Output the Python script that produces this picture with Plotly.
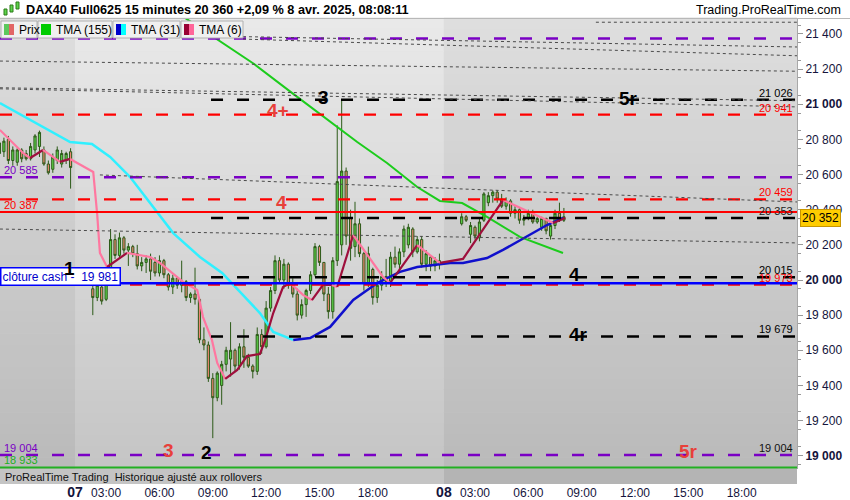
import plotly.graph_objects as go

# ---------------- data ----------------
# bar index: 0 = 07 avr 01:15, one unit = one 15-minute bar; day 08 starts at 83
bar_idx = list(range(-17, 0)) + list(range(4, 83)) + list(range(87, 111))

opens = [20720, 20730, 20800, 20680, 20670, 20740, 20720, 20690, 20740, 20760, 20740, 20660, 20630, 20680, 20660, 20680, 20730,
         19950, 19900, 19960, 19890, 20050, 20230, 20140, 20240, 20170, 20190, 20150, 20080, 20100, 20120, 20100, 20040,
         20110, 20030, 19960, 20010, 19970, 19990, 19900, 19920, 19890, 19660, 19630, 19440, 19330, 19400, 19520, 19550,
         19600, 19510, 19620, 19560, 19510, 19480, 19690, 19620, 19840, 19940, 20110, 20000, 20090, 19970, 19920, 19800,
         19860, 19940, 20030, 20190, 20100, 19920, 19820, 20110, 20200, 20620, 20350, 20190, 20320, 20150, 19980, 20060,
         19900, 19970, 20020, 19990, 20130, 20090, 20160, 20200, 20290, 20160, 20230, 20090, 20130, 20080, 20110,
         20320, 20360, 20260, 20300, 20240, 20340, 20440, 20480, 20500, 20460, 20420, 20450, 20380, 20400, 20340, 20350,
         20380, 20330, 20300, 20350, 20250, 20310, 20380, 20340]
highs = [20800, 20810, 20820, 20760, 20750, 20750, 20740, 20780, 20830, 20850, 20760, 20680, 20720, 20760, 20740, 20730, 20750,
         19985, 19985, 20020, 20060, 20290, 20260, 20270, 20250, 20210, 20200, 20200, 20130, 20140, 20150, 20130, 20140,
         20120, 20040, 20030, 20020, 20110, 20000, 19930, 20070, 19900, 19730, 19650, 19470, 19480, 19540, 19620, 19760,
         19610, 19640, 19720, 19580, 19520, 19730, 19720, 19880, 19960, 20140, 20130, 20120, 20100, 20010, 19950, 19890,
         19950, 20050, 20210, 20200, 20100, 19960, 20130, 20880, 21026, 20640, 20400, 20445, 20350, 20160, 20190, 20070,
         20000, 20050, 20120, 20160, 20190, 20180, 20310, 20320, 20300, 20250, 20250, 20170, 20140, 20130, 20150,
         20380, 20370, 20330, 20310, 20350, 20500, 20500, 20510, 20510, 20490, 20470, 20460, 20420, 20410, 20370, 20400,
         20400, 20360, 20360, 20355, 20320, 20400, 20440, 20410]
lows = [20680, 20700, 20660, 20650, 20650, 20670, 20680, 20680, 20720, 20700, 20650, 20600, 20610, 20660, 20640, 20660, 20520,
        19800, 19880, 19860, 19880, 20040, 20120, 20120, 20150, 20080, 20130, 20060, 20050, 20040, 20000, 20020, 20020,
        20010, 19940, 19920, 19950, 19930, 19880, 19870, 19860, 19640, 19600, 19420, 19100, 19310, 19290, 19480, 19450,
        19480, 19490, 19500, 19500, 19440, 19460, 19580, 19610, 19820, 19920, 19980, 19950, 19950, 19900, 19770, 19780,
        19790, 19920, 20020, 20080, 19880, 19780, 19780, 20080, 20140, 20200, 20110, 20130, 20130, 19940, 19960, 19860,
        19870, 19940, 19960, 19960, 20070, 20060, 20130, 20180, 20130, 20150, 20070, 20050, 20050, 20050, 20060,
        20310, 20330, 20210, 20230, 20220, 20330, 20420, 20440, 20440, 20410, 20400, 20360, 20350, 20320, 20310, 20340,
        20320, 20320, 20280, 20260, 20230, 20290, 20330, 20330]
closes = [20780, 20790, 20680, 20740, 20740, 20690, 20690, 20760, 20820, 20840, 20660, 20610, 20700, 20740, 20720, 20720, 20640,
          19900, 19970, 19880, 20050, 20230, 20140, 20240, 20170, 20190, 20150, 20080, 20100, 20120, 20050, 20040, 20110,
          20030, 19960, 20010, 19970, 19990, 19900, 19920, 19890, 19660, 19630, 19440, 19330, 19470, 19520, 19600, 19600,
          19510, 19620, 19560, 19510, 19480, 19690, 19620, 19840, 19940, 20110, 20000, 20090, 19970, 19920, 19800, 19860,
          19940, 20030, 20190, 20100, 19920, 19820, 20110, 20560, 20620, 20250, 20180, 20320, 20150, 19980, 20150, 19900,
          19970, 20020, 19990, 20130, 20090, 20160, 20290, 20300, 20160, 20230, 20090, 20150, 20080, 20110, 20090,
          20360, 20340, 20310, 20250, 20330, 20490, 20480, 20500, 20460, 20420, 20450, 20380, 20400, 20340, 20350, 20380,
          20330, 20350, 20350, 20280, 20310, 20380, 20350, 20360]

tma155_x = [21.4, 32.4, 40.3, 49.1, 59.0, 63.5, 70.2, 77.0, 82.1, 87.1, 92.7, 100.1, 109.8]
tma155_v = [21548, 21360, 21229, 21059, 20871, 20785, 20666, 20529, 20450, 20438, 20359, 20245, 20154]

tma31_x = [-16.9, -1.1, 3.8, 7.9, 12.4, 18.5, 22.1, 28.1, 33.1, 41.6, 44.6, 49.1, 52.9, 57.4, 62.6, 68.0,
           73.1, 77.0, 84.4, 87.3, 92.7, 96.3, 102.4, 106.2, 109.8]
tma31_v = [21007, 20785, 20774, 20700, 20586, 20381, 20267, 20131, 20040, 19812, 19704, 19659, 19670, 19733,
           19886, 19983, 20046, 20074, 20097, 20097, 20125, 20171, 20256, 20313, 20353]

tma6_x = [-16.9, -14.6, -11.7, -10.1, -7.2, -3.4, -1.1, 3.4, 4.1, 5.0, 5.6, 7.2, 11.7, 16.9, 19.1, 24.3, 27.5,
          28.8, 30.8, 32.0, 33.8, 36.5, 38.7, 41.6, 42.8, 44.6, 46.8, 48.4, 51.3, 53.3, 55.8, 57.8, 59.0, 62.6,
          69.3, 70.9, 77.0, 82.1, 87.3, 96.3, 107.6, 110.3]
tma6_v = [20854, 20797, 20723, 20694, 20740, 20672, 20689, 20626, 20615, 20370, 20154, 20074, 20154, 20131,
          20097, 19989, 19943, 19789, 19659, 19528, 19437, 19488, 19567, 19579, 19659, 19812, 19960, 19983, 19915,
          19886, 19972, 19972, 19960, 20256, 20017, 19983, 20199, 20097, 20120, 20455, 20324, 20353]

purple_levels = [21375, 20585, 19004]
red_dashed_levels = [20941, 20459, 19973]
red_solid_level = 20387
black_levels = [21026, 20353, 20015, 19679]
black_levels_start = 30.6
cash_close = 19981
green_level = 18933
last_price = 20352

# gray dotted trend lines: (x0 idx, v0, x1 idx, v1)
trend_x0 = [117.2, 37.8, 37.8, -16.9, -16.9, -16.9, 5.6, -16.9]
trend_v0 = [21467, 21385, 21371, 21246, 21094, 21088, 20598, 20290]
trend_x1 = [162.5, 162.5, 162.5, 162.5, 162.5, 162.5, 162.5, 162.5]
trend_v1 = [21467, 21326, 21276, 21188, 21020, 20985, 20444, 20211]

x_tick_idx = [0, 7, 19, 31, 43, 55, 67, 83, 90, 102, 114, 126, 138, 150]
x_tick_text = ["07", "03:00", "06:00", "09:00", "12:00", "15:00", "18:00",
               "08", "03:00", "06:00", "09:00", "12:00", "15:00", "18:00"]
y_tick_vals = list(range(19000, 21401, 200))
y_bold_vals = [19000, 20000, 21000]
day_bounds = [-16.88, 0, 83, 162.45]

# ---------------- layout helpers ----------------
W, H = 850, 500
PL, PR, PT, PB = 0, 797, 18, 469
XR = [-16.88, 162.45]
YR = [18924.4, 21491.0]


def pxx(x):
    return (x - PL) / (PR - PL)


def pxy(y):
    return (PB - y) / (PB - PT)


def fmt(v):
    return f"{v:,}".replace(",", " ")


ARIAL = "Liberation Sans, Arial, sans-serif"
NARROW = "Liberation Sans Narrow, Arial Narrow, Liberation Sans, sans-serif"

fig = go.Figure()
shapes = []
annots = []


def lerp(c1, c2, t):
    return tuple(round(a + (b - a) * t) for a, b in zip(c1, c2))


light_top, light_bot = (233, 233, 233), (197, 197, 197)
dark_top, dark_bot = (222, 222, 222), (186, 186, 186)
NB = 40
for d in range(3):
    top, bot = (dark_top, dark_bot) if d != 1 else (light_top, light_bot)
    for i in range(NB):
        c = lerp(top, bot, (i + 0.5) / NB)
        shapes.append(dict(type="rect", xref="x", yref="paper", x0=day_bounds[d], x1=day_bounds[d + 1],
                           y0=1 - (i + 1) / NB, y1=1 - i / NB + 0.001, line=dict(width=0),
                           fillcolor=f"rgb{c}", layer="below"))

# candles
fig.add_trace(go.Candlestick(
    x=bar_idx, open=opens, high=highs, low=lows, close=closes,
    increasing=dict(line=dict(color="#2c5a18", width=1), fillcolor="#5cd44a"),
    decreasing=dict(line=dict(color="#2c5a18", width=1), fillcolor="#ec8672"),
    whiskerwidth=0, hoverinfo="skip", showlegend=False))


def slope_segments(xs, vs, up, down):
    segs = []
    cur, col = [0], None
    for i in range(1, len(xs)):
        c = up if vs[i] >= vs[i - 1] else down
        if col is not None and c != col:
            segs.append((cur, col))
            cur = [i - 1]
        cur.append(i)
        col = c
    segs.append((cur, col))
    return segs


fig.add_trace(go.Scatter(x=tma155_x, y=tma155_v, mode="lines",
                         line=dict(color="#1ccc1c", width=2), hoverinfo="skip", showlegend=False))
for idxs, col in slope_segments(tma31_x, tma31_v, "#1010cc", "#30f0ff"):
    fig.add_trace(go.Scatter(x=[tma31_x[i] for i in idxs], y=[tma31_v[i] for i in idxs], mode="lines",
                             line=dict(color=col, width=2.5), hoverinfo="skip", showlegend=False))
for idxs, col in slope_segments(tma6_x, tma6_v, "#9e0f3c", "#ff77a0"):
    fig.add_trace(go.Scatter(x=[tma6_x[i] for i in idxs], y=[tma6_v[i] for i in idxs], mode="lines",
                             line=dict(color=col, width=2.2), hoverinfo="skip", showlegend=False))

# levels
DASH = "12px,14px"
for v in purple_levels:
    shapes.append(dict(type="line", xref="paper", yref="y", x0=0, x1=1, y0=v, y1=v,
                       line=dict(color="#7a00c4", width=2.5, dash=DASH)))
for v in red_dashed_levels:
    shapes.append(dict(type="line", xref="paper", yref="y", x0=0, x1=1, y0=v, y1=v,
                       line=dict(color="#ff0000", width=2.2, dash=DASH)))
shapes.append(dict(type="line", xref="paper", yref="y", x0=0, x1=1, y0=red_solid_level, y1=red_solid_level,
                   line=dict(color="#ff0000", width=2)))
for v in black_levels:
    shapes.append(dict(type="line", xref="x", yref="y", x0=black_levels_start, x1=XR[1], y0=v, y1=v,
                       line=dict(color="#000000", width=2.5, dash=DASH)))
shapes.append(dict(type="line", xref="paper", yref="y", x0=0, x1=1, y0=cash_close, y1=cash_close,
                   line=dict(color="#0000ff", width=2.5)))
shapes.append(dict(type="line", xref="paper", yref="y", x0=0, x1=1, y0=green_level, y1=green_level,
                   line=dict(color="#22b022", width=2)))
for x0, v0, x1, v1 in zip(trend_x0, trend_v0, trend_x1, trend_v1):
    shapes.append(dict(type="line", xref="x", yref="y", x0=x0, x1=x1, y0=v0, y1=v1,
                       line=dict(color="#4a4a4a", width=1, dash="3px,3px")))

# bottom info band
shapes.append(dict(type="rect", xref="paper", yref="paper", x0=0, x1=pxx(444), y0=pxy(484), y1=pxy(469),
                   line=dict(width=0), fillcolor="#c4c4c4"))
shapes.append(dict(type="rect", xref="paper", yref="paper", x0=pxx(444), x1=1, y0=pxy(484), y1=pxy(469),
                   line=dict(width=0), fillcolor="#b4b4b4"))
annots.append(dict(xref="paper", yref="paper", x=pxx(3), y=pxy(476.5), xanchor="left", yanchor="middle",
                   text="ProRealTime Trading  Historique ajusté aux rollovers", showarrow=False,
                   font=dict(family=NARROW, size=11, color="#111111")))

# header
shapes.append(dict(type="line", xref="paper", yref="paper", x0=0, x1=W / PR, y0=pxy(18.5), y1=pxy(18.5),
                   line=dict(color="#b8b8b8", width=1)))
for (x0, y0, x1, y1) in [(4, 9, 7, 15), (10, 5, 13, 12), (16, 2, 19, 9)]:
    shapes.append(dict(type="rect", xref="paper", yref="paper", x0=pxx(x0), x1=pxx(x1), y0=pxy(y1), y1=pxy(y0),
                       line=dict(color="#2c7a18", width=1), fillcolor="#5cd44a"))
annots.append(dict(xref="paper", yref="paper", x=pxx(24), y=pxy(9.5), xanchor="left", yanchor="middle",
                   text="<b>DAX40 Full0625 15 minutes 20 360 +2,09 % 8 avr. 2025, 08:08:11</b>", showarrow=False,
                   font=dict(family=ARIAL, size=12.7, color="#000000")))
annots.append(dict(xref="paper", yref="paper", x=pxx(843), y=pxy(9.5), xanchor="right", yanchor="middle",
                   text="Trading.ProRealTime.com", showarrow=False,
                   font=dict(family=ARIAL, size=12.5, color="#000000")))

# legend boxes
legend_items = [("Prix", 1, 37, ["#5cc85c", "#e26666"]), ("TMA (155)", 38, 112, ["#00cc00"]),
                ("TMA (31)", 113, 180, ["#0000cc", "#00ffff"]), ("TMA (6)", 181, 243, ["#990033", "#ff6699"])]
for text, bx0, bx1, cols in legend_items:
    shapes.append(dict(type="rect", xref="paper", yref="paper", x0=pxx(bx0), x1=pxx(bx1), y0=pxy(38), y1=pxy(21),
                       line=dict(color="#b0b0b0", width=1), fillcolor="#f0f0f0"))
    sw = 10 / len(cols)
    for k, c in enumerate(cols):
        shapes.append(dict(type="rect", xref="paper", yref="paper", x0=pxx(bx0 + 3 + k * sw),
                           x1=pxx(bx0 + 3 + (k + 1) * sw), y0=pxy(35), y1=pxy(24), line=dict(width=0), fillcolor=c))
    annots.append(dict(xref="paper", yref="paper", x=pxx(bx0 + 16), y=pxy(29.5), xanchor="left", yanchor="middle",
                       text=text, showarrow=False, font=dict(family=ARIAL, size=12, color="#000000")))

# right-side level labels
right_labels = [(21026, "#000000"), (20941, "#ff0000"), (20459, "#ff0000"), (20353, "#222222"),
                (20015, "#000000"), (19973, "#ff0000"), (19679, "#000000"), (19004, "#111111")]
for v, c in right_labels:
    annots.append(dict(xref="paper", yref="y", x=pxx(795), y=v, xanchor="right", yanchor="bottom",
                       text=fmt(v), showarrow=False, yshift=-1, font=dict(family=ARIAL, size=11, color=c)))
left_labels = [(20585, "#7a00c4"), (20387, "#ff0000"), (19004, "#7a00c4"), (18933, "#22b022")]
for v, c in left_labels:
    annots.append(dict(xref="paper", yref="y", x=pxx(2), y=v, xanchor="left", yanchor="bottom",
                       text=fmt(v), showarrow=False, yshift=-1, font=dict(family=ARIAL, size=11, color=c)))

# cash close box
annots.append(dict(xref="paper", yref="paper", x=pxx(0), y=pxy(276), xanchor="left", yanchor="middle",
                   text="clôture cash -  " + fmt(cash_close), showarrow=False, bgcolor="#ffffff",
                   bordercolor="#0000ff", borderwidth=1.5, borderpad=1,
                   font=dict(family=ARIAL, size=12, color="#0000cc")))

# big wave labels
BLACK, LRED = "#000000", "#e8403a"
big_labels = [("3", 323, 97, BLACK), ("5r", 628, 99, BLACK), ("4+", 278, 110, LRED), ("4", 281, 202, LRED),
              ("4", 574, 274, BLACK), ("4r", 578, 334, BLACK), ("1", 69, 268, BLACK), ("3", 168, 450, LRED),
              ("2", 207, 452, BLACK), ("5r", 688, 451, LRED)]
for t, x, y, c in big_labels:
    annots.append(dict(xref="paper", yref="paper", x=pxx(x), y=pxy(y), xanchor="center", yanchor="middle",
                       text=f"<b>{t}</b>", showarrow=False, font=dict(family=ARIAL, size=19, color=c)))

# current price tag
annots.append(dict(xref="paper", yref="y", x=pxx(800), y=last_price, xanchor="left", yanchor="middle",
                   text=fmt(last_price), showarrow=False, bgcolor="#ffcc00", bordercolor="#c89600",
                   borderwidth=1, borderpad=1, font=dict(family=ARIAL, size=12, color="#000000")))

y_tick_text = [f"<b>{fmt(v)}</b>" if v in y_bold_vals else fmt(v) for v in y_tick_vals]
x_text = [f"<b><span style='font-size:14px'>{t}</span></b>" if len(t) == 2 else t for t in x_tick_text]

fig.update_layout(
    width=W, height=H, margin=dict(l=PL, r=W - PR, t=PT, b=H - PB, autoexpand=False),
    paper_bgcolor="#ffffff", plot_bgcolor="#d6d6d6", showlegend=False,
    shapes=shapes, annotations=annots,
    xaxis=dict(range=XR, showgrid=False, zeroline=False, rangeslider=dict(visible=False), automargin=False,
               tickmode="array", tickvals=x_tick_idx, ticktext=x_text, ticks="",
               ticklabelstandoff=15, tickfont=dict(family=NARROW, size=12, color="#14143c"), fixedrange=True),
    yaxis=dict(range=YR, side="right", showgrid=False, zeroline=False, showline=True, linecolor="#a8a8a8",
               automargin=False,
               tickmode="array", tickvals=y_tick_vals, ticktext=y_tick_text, ticks="outside", ticklen=5,
               tickcolor="#999999", tickfont=dict(family=ARIAL, size=12, color="#14143c"),
               minor=dict(tickmode="array", tickvals=list(range(18950, 21500, 100)), ticks="outside",
                          ticklen=3, tickcolor="#999999")),
)

fig.write_html("out.html", config={"displayModeBar": False},
               post_script="document.body.style.margin='0px';document.body.style.padding='0px';")
